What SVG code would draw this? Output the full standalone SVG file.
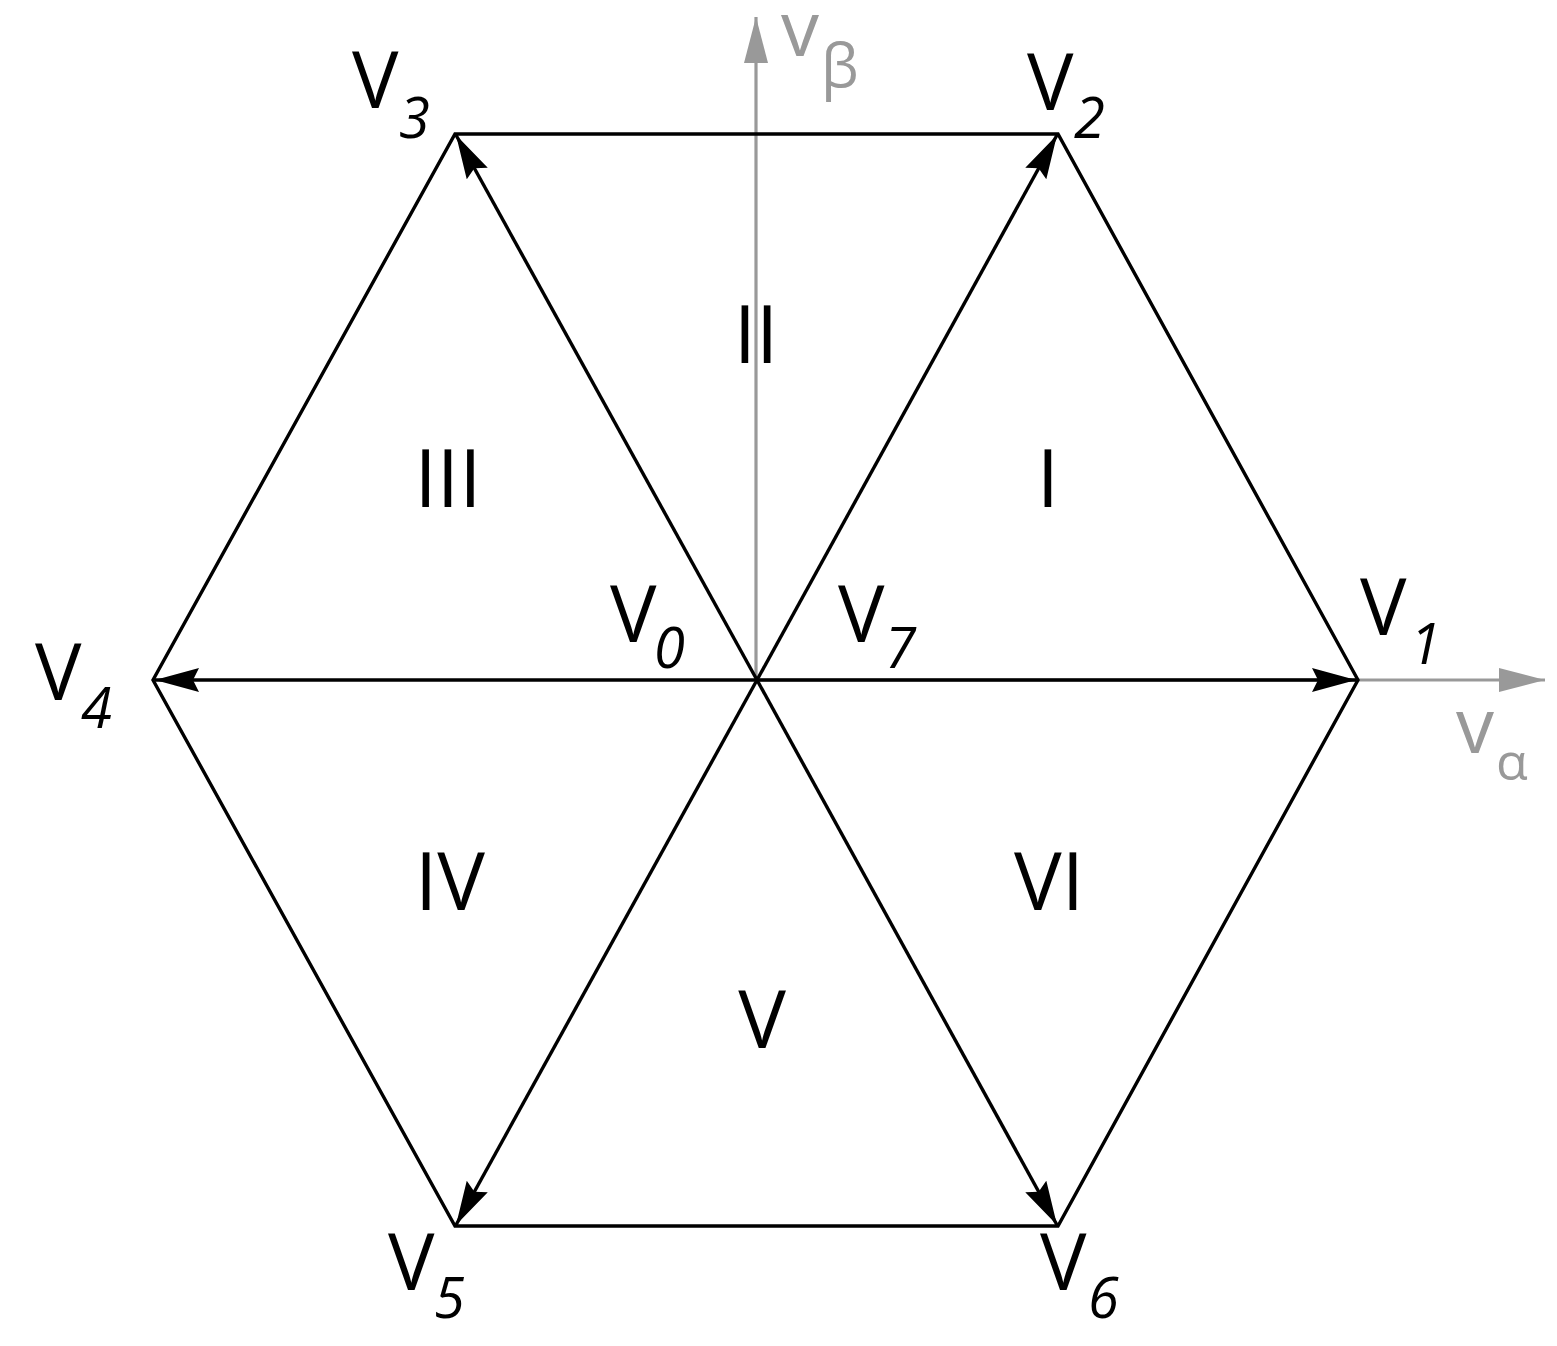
<svg xmlns="http://www.w3.org/2000/svg" width="1557" height="1346" viewBox="0 0 1557 1346">
<defs>
<style>
.edge{stroke:#000;stroke-width:3.4;fill:none}
.vec{stroke:#000;stroke-width:3.4;fill:none;marker-end:url(#ah)}
.axis{stroke:#999;stroke-width:3.2;fill:none;marker-end:url(#ahg)}
.lbl{font-family:"Open Sans","DejaVu Sans",sans-serif;font-size:78px;fill:#000}
.sub{font-family:"Open Sans","DejaVu Sans",sans-serif;font-size:56px;font-style:italic;fill:#000}
.rn{font-family:"Open Sans","DejaVu Sans",sans-serif;font-size:80px;fill:#000;text-anchor:middle}
.ax{font-family:"Open Sans","DejaVu Sans",sans-serif;fill:#999}
</style>
<marker id="ah" markerUnits="userSpaceOnUse" markerWidth="50" markerHeight="30" refX="44" refY="12" orient="auto" viewBox="0 0 50 30">
<path d="M44,12 L0,0 L6,12 L0,24 Z" fill="#000"/>
</marker>
<marker id="ahg" markerUnits="userSpaceOnUse" markerWidth="50" markerHeight="30" refX="46" refY="12" orient="auto" viewBox="0 0 50 30">
<path d="M46,12 L0,0 L0,24 Z" fill="#999"/>
</marker>
</defs>
<rect width="1557" height="1346" fill="#fff"/>
<g id="axes">
<line class="axis" x1="756" y1="680" x2="756" y2="17"/>
<line class="axis" x1="757" y1="680" x2="1545" y2="680"/>
</g>
<g id="hexagon">
<polygon class="edge" points="1358,680 1058,134 455,134 153,680 455,1226 1058,1226"/>
</g>
<g id="connectors">
<line class="vec" x1="757" y1="680" x2="1356" y2="680"/>
<line class="vec" x1="757" y1="680" x2="1057" y2="135"/>
<line class="vec" x1="757" y1="680" x2="456" y2="135"/>
<line class="vec" x1="757" y1="680" x2="155" y2="680"/>
<line class="vec" x1="757" y1="680" x2="456" y2="1225"/>
<line class="vec" x1="757" y1="680" x2="1057" y2="1225"/>
</g>
<g id="node-V1"><text class="lbl" x="1360" y="635">V</text><text class="sub" x="1410" y="664">1</text></g>
<g id="node-V2"><text class="lbl" x="1027" y="110">V</text><text class="sub" x="1074" y="138">2</text></g>
<g id="node-V3"><text class="lbl" x="352" y="108">V</text><text class="sub" x="399" y="138">3</text></g>
<g id="node-V4"><text class="lbl" x="35" y="700">V</text><text class="sub" x="81" y="728">4</text></g>
<g id="node-V5"><text class="lbl" x="388" y="1290">V</text><text class="sub" x="434" y="1318">5</text></g>
<g id="node-V6"><text class="lbl" x="1040" y="1290">V</text><text class="sub" x="1088" y="1318">6</text></g>
<g id="node-V0"><text class="lbl" x="610" y="642">V</text><text class="sub" x="654" y="668">0</text></g>
<g id="node-V7"><text class="lbl" x="838" y="642">V</text><text class="sub" x="885" y="668">7</text></g>
<g id="axis-labels">
<text class="ax" x="781" y="56" font-size="76">v</text>
<text class="ax" x="821" y="87" font-size="60">β</text>
<text class="ax" x="1456" y="753" font-size="76">v</text>
<text class="ax" x="1496" y="780" font-size="52">α</text>
</g>
<g id="sectors">
<text class="rn" x="756" y="363">II</text>
<text class="rn" x="448" y="507">III</text>
<text class="rn" x="1048" y="507">I</text>
<text class="rn" x="450" y="910">IV</text>
<text class="rn" x="1049" y="910">VI</text>
<text class="rn" x="762" y="1048">V</text>
</g>
</svg>
